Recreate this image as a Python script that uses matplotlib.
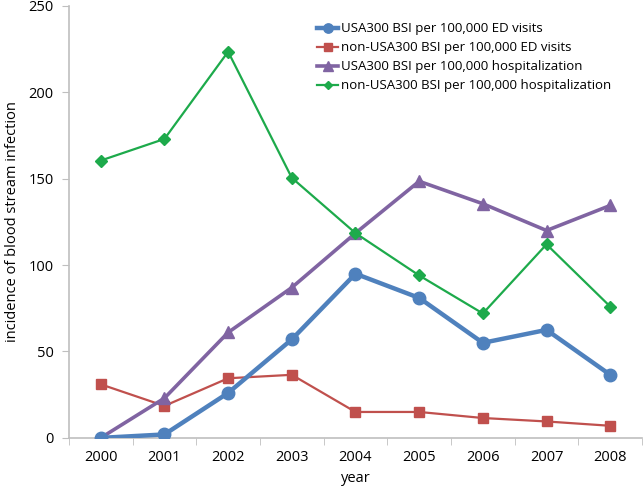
import matplotlib
matplotlib.use("Agg")
import matplotlib.pyplot as plt

plt.rcParams["font.family"] = ["Open Sans", "DejaVu Sans"]

years = ["2000", "2001", "2002", "2003", "2004", "2005", "2006", "2007", "2008"]
usa300_ed = [0, 2, 26, 57, 95, 81, 55, 62.5, 36.5]
non_usa300_ed = [31, 18.5, 34.5, 36.5, 15, 15, 11.5, 9.5, 7]
usa300_hosp = [0, 23, 61, 87, 118.5, 148.5, 135.5, 120, 134.5]
non_usa300_hosp = [160.5, 173, 223.5, 150.5, 118.5, 94, 72, 112, 76]

x = list(range(len(years)))

fig = plt.figure(figsize=(6.44, 4.92), dpi=100)
ax = fig.add_axes([0.107, 0.110, 0.890, 0.878])

ax.plot(x, usa300_ed, color="#4F81BD", lw=3.2, marker="o", ms=9,
        label="USA300 BSI per 100,000 ED visits", zorder=4)
ax.plot(x, non_usa300_ed, color="#C0504D", lw=1.6, marker="s", ms=7,
        label="non-USA300 BSI per 100,000 ED visits", zorder=3)
ax.plot(x, usa300_hosp, color="#8064A2", lw=2.6, marker="^", ms=9,
        label="USA300 BSI per 100,000 hospitalization", zorder=3)
ax.plot(x, non_usa300_hosp, color="#1DAA4B", lw=1.6, marker="D", ms=6,
        label="non-USA300 BSI per 100,000 hospitalization", zorder=3)

ax.set_xlim(-0.5, len(years) - 0.5)
ax.set_ylim(0, 250)
ax.set_yticks([0, 50, 100, 150, 200, 250])
ax.set_xticks(x)
ax.set_xticklabels(years)
ax.set_xticks([i - 0.5 for i in range(len(years) + 1)], minor=True)
ax.tick_params(axis="x", which="major", length=0, pad=9, labelsize=10.5)
ax.tick_params(axis="x", which="minor", length=5, color="#BFBFBF", direction="out")
ax.tick_params(axis="y", length=5, color="#BFBFBF", labelsize=10.5, pad=6)

for side in ["top", "right"]:
    ax.spines[side].set_visible(False)
for side in ["left", "bottom"]:
    ax.spines[side].set_color("#BFBFBF")
    ax.spines[side].set_linewidth(1.2)

ax.set_xlabel("year", fontsize=10.5, labelpad=4)
ax.set_ylabel("incidence of blood stream infection", fontsize=10.5, labelpad=6)

ax.legend(loc="upper right", bbox_to_anchor=(0.96, 0.98), frameon=False,
          fontsize=9.5, handlelength=1.6, handletextpad=0.2, labelspacing=0.45,
          borderaxespad=0.2, markerscale=0.75)

fig.savefig("out.png", dpi=100)
